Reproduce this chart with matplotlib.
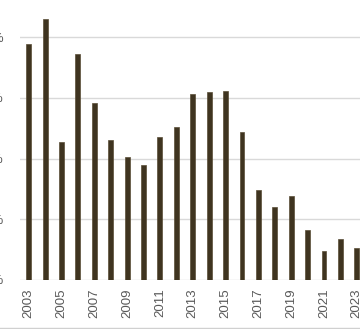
import numpy as np
import matplotlib.pyplot as plt
from matplotlib.lines import Line2D

# Data (y axis labels are cropped in the reference)
years = list(range(2003, 2024))
values = [19.4, 21.5, 11.4, 18.6, 14.6, 11.5, 10.1, 9.5, 11.8, 12.6,
          15.3, 15.5, 15.6, 12.2, 7.4, 6.0, 6.9, 4.1, 2.4, 3.4, 2.6]
y_ticks = [0, 5, 10, 15, 20]
y_labels = ["0%", "5%", "10%", "15%", "20%"]

plt.rcParams['font.family'] = ['Liberation Sans', 'DejaVu Sans']

fig = plt.figure(figsize=(3.6, 3.29), dpi=100)
# axes runs past the right edge, as in the cropped original
ax = fig.add_axes([20 / 360, 49 / 329, 345 / 360, 280 / 329])

x = np.arange(len(years))
ax.bar(x, values, width=0.3, color='#3f3420', edgecolor='#5a4d36', linewidth=0.5, zorder=3)

ax.set_xlim(-0.53, 20.5)
ax.set_ylim(0, 280 / 60.7 * 5)
ax.set_yticks(y_ticks)
ax.set_yticklabels(y_labels)
ax.grid(axis='y', color='#d9d9d9', linewidth=1, zorder=0)

ax.set_xticks(x[::2])
ax.set_xticklabels([str(y) for y in years[::2]], rotation=90)

for s in ax.spines.values():
    s.set_visible(False)
ax.tick_params(axis='both', length=0, colors='#595959', labelsize=9.5)
ax.tick_params(axis='y', pad=11.5)
ax.tick_params(axis='x', pad=6)

# light border line along the bottom of the chart area
fig.add_artist(Line2D([0, 1], [1.5 / 329, 1.5 / 329], color='#d0d0d0', linewidth=1))

fig.savefig('out.png', dpi=100)
